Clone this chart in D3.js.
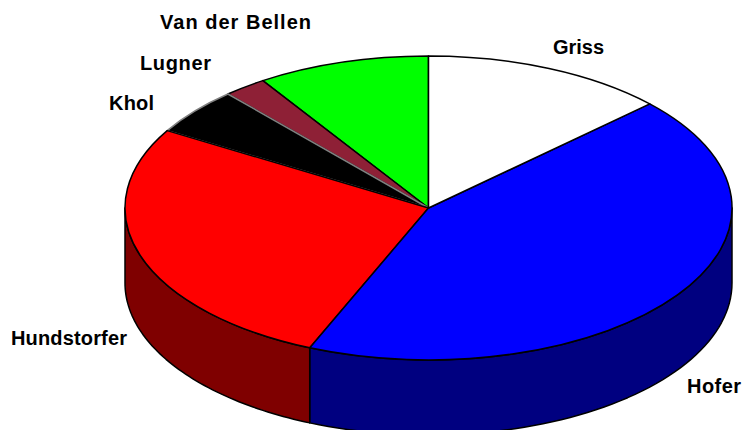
<!DOCTYPE html>
<html>
<head>
<meta charset="utf-8">
<script src="https://d3js.org/d3.v7.min.js"></script>
<style>
  html, body { margin: 0; padding: 0; background: #fff; }
  svg { display: block; }
  text { font-family: "Liberation Sans", Arial, sans-serif; font-weight: bold; font-size: 20px; fill: #000; }
</style>
</head>
<body>
<div class="canvas"></div>
<script>
// data, clockwise from 12 o'clock
const names = ["Griss", "Hofer", "Hundstorfer", "Khol", "Lugner", "Van der Bellen"];
const shares = [13, 43.4, 27.1, 5, 2.3, 9.2];

// colours
const topColors = ["#ffffff", "#0000ff", "#ff0000", "#000000", "#8e2036", "#00ff00"];
const sideColors = ["#808080", "#000080", "#7f0000", "#000000", "#47101b", "#008000"];

// label anchors (left edge, baseline) and widths
const labelX = [553, 687, 11, 109, 140, 160];
const labelY = [54, 393, 345, 110, 70, 29];
const labelW = [51, 54, 116, 45, 71, 151];

// margins and dimensions
const w = 743;
const h = 430;
const cx = 428.5;
const cy = 208;
const rx = 303.5;
const ry = 152;
const depth = 75;

const svg = d3.select(".canvas").append("svg").attr("width", w).attr("height", h);
const graph = svg.append("g").attr("transform", `translate(${cx}, ${cy})`);

const slices = d3.pie().sort(null)(shares.map((v) => v));

// side wall, only the part facing the viewer (90 to 270 degrees)
const wall = d3
  .area()
  .x((a) => rx * Math.sin(a))
  .y0((a) => -ry * Math.cos(a))
  .y1((a) => -ry * Math.cos(a) + depth);

graph
  .selectAll("path.side")
  .data(slices.filter((d) => d.endAngle > Math.PI / 2 && d.startAngle < (3 * Math.PI) / 2))
  .enter()
  .append("path")
  .attr("class", "side")
  .attr("d", (d) => {
    const a0 = Math.max(d.startAngle, Math.PI / 2);
    const a1 = Math.min(d.endAngle, (3 * Math.PI) / 2);
    return wall(d3.range(0, 61).map((i) => a0 + ((a1 - a0) * i) / 60));
  })
  .attr("fill", (d) => sideColors[d.index])
  .attr("stroke", "#000")
  .attr("stroke-width", 1.5)
  .attr("stroke-linejoin", "round");

// top face: unit circle arcs squashed into the ellipse
const arc = d3.arc().innerRadius(0).outerRadius(1);

// drawn in reverse so the grey Khol edge lands on Lugner and not on Hundstorfer
graph
  .append("g")
  .attr("transform", `scale(${rx}, ${ry})`)
  .selectAll("path.slice")
  .data(slices.slice().reverse())
  .enter()
  .append("path")
  .attr("class", "slice")
  .attr("d", arc)
  .attr("fill", (d) => topColors[d.index])
  .attr("stroke", (d) => (names[d.index] === "Khol" ? "#808080" : "#000"))
  .attr("stroke-width", 1.5)
  .attr("stroke-linejoin", "round")
  .attr("vector-effect", "non-scaling-stroke");

// labels
svg
  .selectAll("text")
  .data(names)
  .enter()
  .append("text")
  .attr("x", (d, i) => labelX[i])
  .attr("y", (d, i) => labelY[i])
  .attr("textLength", (d, i) => labelW[i])
  .attr("lengthAdjust", "spacing")
  .text((d) => d);
</script>
</body>
</html>
